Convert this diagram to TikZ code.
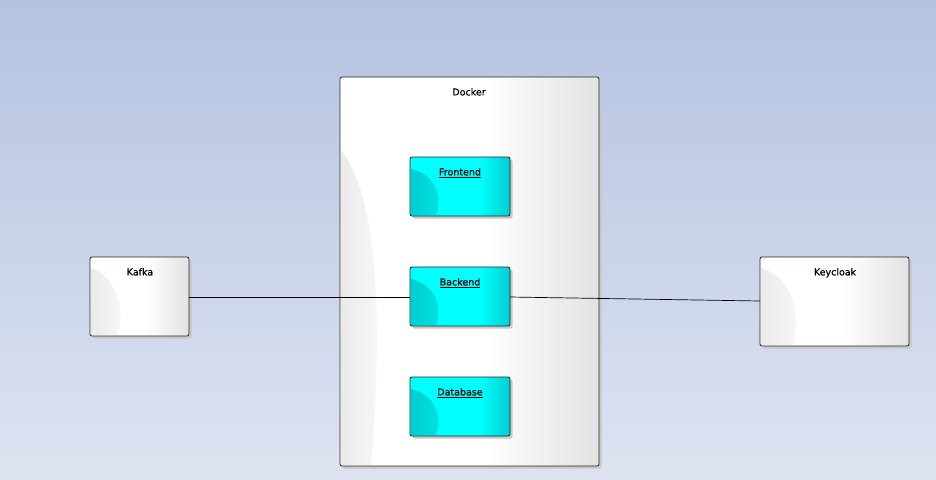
\documentclass[tikz,border=0pt]{standalone}
\usepackage{fontspec}
\setmainfont{DejaVu Sans}
\newfontfamily\lblfont[FakeBold=0.5]{DejaVu Sans}
\definecolor{bgtop}{RGB}{180,195,225}
\definecolor{bgbot}{RGB}{222,227,241}
\definecolor{boxgray}{RGB}{226,226,226}
\definecolor{cyanA}{RGB}{0,255,255}
\definecolor{cyanB}{RGB}{0,206,206}
\pgfdeclarehorizontalshading{whiteshade}{100bp}{color(0bp)=(white); color(25bp)=(white); color(53bp)=(white); color(75bp)=(boxgray); color(100bp)=(boxgray)}
\pgfdeclarehorizontalshading{cyanshade}{100bp}{color(0bp)=(cyanA); color(25bp)=(cyanA); color(60bp)=(cyanA); color(75bp)=(cyanB); color(100bp)=(cyanB)}
\tikzset{
  lbl/.style={font=\lblfont\fontsize{9.5}{10}\selectfont, text=black, anchor=north, inner sep=1pt},
  framebox/.style={draw=black!85, line width=0.8pt, rounded corners=2pt},
  dropshadow/.style={fill=black!22, rounded corners=2pt},
  conn/.style={draw=black, line width=0.7pt},
}
\begin{document}
\begin{tikzpicture}[x=1pt,y=-1pt]
\useasboundingbox (0,0) rectangle (936,479);
\shade[top color=bgtop, bottom color=bgbot] (0,0) rectangle (936,479);

\newcommand{\whitebox}[5]{% name, x1,y1,x2,y2
  \fill[dropshadow] (#2+2.5,#3+2.5) rectangle (#4+2.5,#5+2.5);
  \shade[rounded corners=2pt, shading=whiteshade] (#2,#3) rectangle (#4,#5);
}
\newcommand{\cyanbox}[5]{%
  \fill[dropshadow] (#2+2.5,#3+2.5) rectangle (#4+2.5,#5+2.5);
  \shade[rounded corners=2pt, shading=cyanshade] (#2,#3) rectangle (#4,#5);
  \shade[left color=cyanB, right color=cyanA!45!cyanB] (#2+1,#3+12) .. controls (#2+26,#3+18) and (#2+33,#3+40) .. (#2+26,#5-1) -- (#2+1,#5-1) -- cycle;
  \draw[framebox] (#2,#3) rectangle (#4,#5);
}

% Docker
\whitebox{dock}{340}{77}{599}{466}
\shade[left color=black!8, right color=black!3] (341,150) .. controls (380,200) and (382,330) .. (371,465) -- (341,465) -- cycle;
\draw[framebox] (340,77) rectangle (599,466);
\node[lbl] (dockerlbl) at (469,87) {Docker};

% Kafka
\whitebox{kaf}{90}{257}{189}{336}
\shade[left color=black!8, right color=black!3] (91,268) .. controls (122,280) and (124,320) .. (117,335) -- (91,335) -- cycle;
\draw[framebox] (90,257) rectangle (189,336);
\node[lbl] (kafkalbl) at (140,267) {Kafka};

% Keycloak
\whitebox{key}{760}{257}{909}{346}
\shade[left color=black!8, right color=black!3] (761,268) .. controls (800,280) and (799,330) .. (792,345) -- (761,345) -- cycle;
\draw[framebox] (760,257) rectangle (909,346);
\node[lbl] (keylbl) at (835,267) {Keycloak};

% cyan boxes
\cyanbox{fe}{410}{157}{510}{216}
\node[lbl] (felbl) at (460,167) {\underline{Frontend}};
\cyanbox{be}{410}{267}{510}{326}
\node[lbl] (belbl) at (460,277) {\underline{Backend}};
\cyanbox{db}{410}{377}{510}{436}
\node[lbl] (dblbl) at (460,387) {\underline{Database}};

% connectors
\coordinate (kafR) at (189,297);
\coordinate (beL) at (410,297);
\coordinate (beR) at (510,297);
\coordinate (keyL) at (760,301);
\draw[conn] (kafR) -- (beL);
\draw[conn] (beR) -- (keyL);
\end{tikzpicture}
\end{document}
